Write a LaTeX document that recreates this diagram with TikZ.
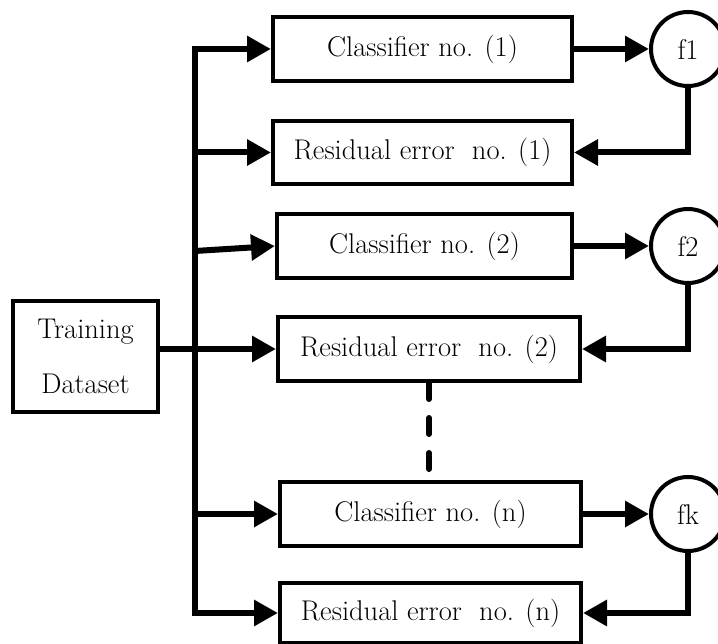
\documentclass[tikz,border=0pt]{standalone}
\usepackage{fontspec}
\usepackage{tikz}
\usetikzlibrary{arrows.meta}
\begin{document}
\begin{tikzpicture}[x=1pt,y=-1pt,>={Triangle[length=24pt,width=25pt]}]
\tikzstyle{every node}=[font=\fontsize{28.5}{34}\selectfont,inner sep=0pt]
\tikzstyle{blk}=[draw,line width=4pt,minimum height=64pt]
\tikzstyle{fcirc}=[draw,circle,line width=4pt,minimum size=74pt]
\tikzstyle{lnk}=[line width=6pt]
\useasboundingbox (0,0) rectangle (718,644);
\node[blk,minimum width=145pt,minimum height=111pt,align=center,font=\fontsize{28.5}{55}\selectfont] (train) at (85.5,356.5) {Training\\Dataset};
\node[blk,minimum width=299pt] (c1) at (422.5,49) {Classifier no. (1)};
\node[blk,minimum width=299pt,minimum height=63pt] (r1) at (422.5,152.5) {Residual error\ \ no. (1)};
\node[blk,minimum width=295pt] (c2) at (424.5,246) {Classifier no. (2)};
\node[blk,minimum width=302pt] (r2) at (429,349) {Residual error\ \ no. (2)};
\node[blk,minimum width=301pt] (cn) at (430.5,514) {Classifier no. (n)};
\node[blk,minimum width=301pt,minimum height=60pt] (rn) at (430.5,613) {Residual error\ \ no. (n)};
\node[fcirc] (f1) at (688,49) {f1};
\node[fcirc] (f2) at (688,246) {f2};
\node[fcirc] (fk) at (688,514) {fk};
\coordinate (bus) at (195,0);
\draw[lnk,<->] (c1.west) -| (bus |- rn.west) -- (rn.west);
\draw[lnk,->] (bus |- r1.west) -- (r1.west);
\draw[lnk,->] ([yshift=-5pt]bus |- c2.west) -- (c2.west);
\draw[lnk,->] (bus |- cn.west) -- (cn.west);
\draw[lnk,->] (train.east |- r2.west) -- (r2.west);
\draw[lnk,->] (c1.east) -- (f1.west);
\draw[lnk,->] (c2.east) -- (f2.west);
\draw[lnk,->] (cn.east) -- (fk.west);
\draw[lnk,->] (f1.south) |- (r1.east);
\draw[lnk,->] (f2.south) |- (r2.east);
\draw[lnk,->] (fk.south) |- (rn.east);
\draw[lnk,dash pattern=on 16pt off 19pt,line cap=round] (r2.south) -- ([yshift=8pt]r2.south |- cn.north);
\end{tikzpicture}
\end{document}
